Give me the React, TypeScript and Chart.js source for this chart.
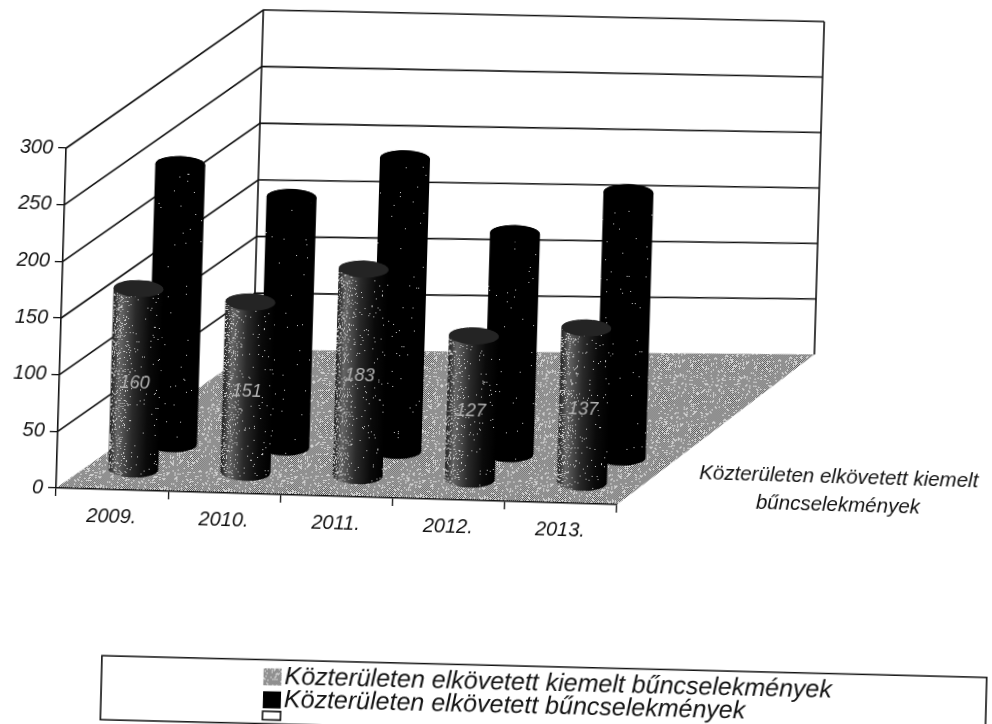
import React, { useEffect, useRef } from "react";
import { Chart, registerables } from "chart.js";

Chart.register(...registerables);

const categories = ["2009.", "2010.", "2011.", "2012.", "2013."];
const frontValues = [160, 151, 183, 127, 137];
const rearValues = [247, 221, 258, 195, 234];
const frontName = "Közterületen elkövetett kiemelt bűncselekmények";
const rearName = "Közterületen elkövetett bűncselekmények";
const depthLabelLines = ["Közterületen elkövetett kiemelt", "bűncselekmények"];

const FONT = '"Liberation Sans", Arial, sans-serif';
const W = 1112;
const H = 844;
const O = 60;

function hash(x: number, y: number) {
  let h = Math.imul(x + 11, 374761393) ^ Math.imul(y + 7, 668265263);
  h = Math.imul(h ^ (h >>> 15), 1274126177);
  h = Math.imul(h ^ (h >>> 13), 2246822519);
  return ((h ^ (h >>> 16)) >>> 0) / 4294967296;
}

function stipple(ctx: any) {
  const c = document.createElement("canvas");
  c.width = 64;
  c.height = 64;
  const t = c.getContext("2d")!;
  t.fillStyle = "#d0d0d0";
  t.fillRect(0, 0, 64, 64);
  t.fillStyle = "#505050";
  for (let y = 0; y < 64; y++)
    for (let x = 0; x < 64; x++)
      if ((x + y) % 2 === 0 && hash(x, y) < 0.85) t.fillRect(x, y, 1, 1);
  return ctx.createPattern(c, "repeat");
}

const project = (area: any, px: number, py: number, d: number) => {
  const u = (px - area.left) / (area.right - area.left);
  const vf = (area.bottom - py) / (area.bottom - area.top);
  return { x: px + d * 193, y: py + d * (-144 - u * (12 - 7 * vf)) };
};

const seriesShift = [
  { dx: 20.5, dy: -20.5, frontStyle: true },
  { dx: 58.5, dy: -47, frontStyle: false },
];

const wallPlugin = {
  id: "walls",
  beforeDraw(chart: any) {
    const { ctx, chartArea: a, scales } = chart;
    ctx.save();
    ctx.fillStyle = "#fff";
    ctx.fillRect(0, 0, W, H);
    const bl = project(a, a.left, a.bottom, 1);
    const br = project(a, a.right, a.bottom, 1);
    ctx.fillStyle = stipple(ctx);
    ctx.beginPath();
    ctx.moveTo(a.left, a.bottom);
    ctx.lineTo(a.right, a.bottom);
    ctx.lineTo(br.x, br.y);
    ctx.lineTo(bl.x, bl.y);
    ctx.closePath();
    ctx.fill();

    ctx.strokeStyle = "#111";
    ctx.lineWidth = 1.6;
    for (const t of scales.y.ticks) {
      if (t.value === 0) continue;
      const y = scales.y.getPixelForValue(t.value);
      const p = project(a, a.left, y, 1);
      const q = project(a, a.right, y, 1);
      ctx.beginPath();
      ctx.moveTo(a.left, y);
      ctx.lineTo(p.x, p.y);
      ctx.lineTo(q.x, q.y);
      ctx.stroke();
    }
    const tl = project(a, a.left, a.top, 1);
    const tr = project(a, a.right, a.top, 1);
    ctx.beginPath();
    ctx.moveTo(tl.x, tl.y);
    ctx.lineTo(bl.x, bl.y);
    ctx.moveTo(tr.x, tr.y);
    ctx.lineTo(br.x, br.y);
    ctx.stroke();
    ctx.restore();
  },
  beforeDatasetDraw(chart: any, args: any) {
    const shift = seriesShift[args.index];
    if (!shift) return false;
    const { ctx } = chart;
    const meta = args.meta;
    meta.data.forEach((el: any, i: number) => {
      const cx = el.x + shift.dx;
      const yb = el.base + shift.dy;
      const yt = el.y + shift.dy;
      const rx = el.width / 2;
      const ry = 8.5;
      ctx.save();
      ctx.beginPath();
      ctx.moveTo(cx - rx, yt);
      ctx.lineTo(cx - rx, yb);
      ctx.ellipse(cx, yb, rx, ry, 0, Math.PI, 0, true);
      ctx.lineTo(cx + rx, yt);
      ctx.ellipse(cx, yt, rx, ry, 0, 0, Math.PI, true);
      ctx.closePath();
      if (shift.frontStyle) {
        const g = ctx.createLinearGradient(cx - rx, 0, cx + rx, 0);
        g.addColorStop(0, "#222");
        g.addColorStop(0.06, "#3a3a3a");
        g.addColorStop(0.16, "#666");
        g.addColorStop(0.45, "#2a2a2a");
        g.addColorStop(0.75, "#0a0a0a");
        g.addColorStop(1, "#000");
        ctx.fillStyle = g;
      } else {
        ctx.fillStyle = "#000";
      }
      ctx.fill();
      ctx.clip();
      const x0 = Math.round(cx - rx);
      const wid = Math.round(rx * 2);
      for (let x = x0; x < x0 + wid; x++) {
        const s = (x - x0) / wid;
        const density = shift.frontStyle ? Math.max(0.015, 0.24 - 0.55 * s) : 0.004;
        for (let y = Math.floor(yt - ry); y < yb + ry; y++) {
          if (hash(x, y + i * 17) < density) {
            ctx.fillStyle = "#ccc";
            ctx.fillRect(x, y, 1, 1);
          }
        }
      }
      ctx.beginPath();
      ctx.ellipse(cx, yt, rx, ry, 0, 0, Math.PI * 2);
      ctx.fillStyle = shift.frontStyle ? "#242424" : "#000";
      ctx.fill();
      if (shift.frontStyle) {
        ctx.font = `italic 18px ${FONT}`;
        ctx.textAlign = "center";
        ctx.textBaseline = "middle";
        ctx.fillStyle = "#b4b4b4";
        ctx.fillText(String(chart.data.datasets[args.index].data[i]), cx - 1, (yt + yb) / 2 + 4);
      }
      ctx.restore();
    });
    return false;
  },
  afterDraw(chart: any) {
    const { ctx } = chart;
    ctx.save();
    ctx.fillStyle = "#111";
    ctx.font = `italic 20.5px ${FONT}`;
    ctx.textAlign = "center";
    ctx.textBaseline = "middle";
    depthLabelLines.forEach((s, i) => ctx.fillText(s, 842 + O, 467 + O + i * 28));

    const bx = 111 + O;
    const by = 665 + O;
    ctx.translate(bx + 442, by + 32);
    ctx.rotate((-0.3 * Math.PI) / 180);
    ctx.translate(-(bx + 442), -(by + 32));
    ctx.strokeStyle = "#111";
    ctx.lineWidth = 1.6;
    ctx.strokeRect(bx, by, 885, 64);
    const rows = [682, 705, 725];
    chart.data.datasets.forEach((ds: any, i: number) => {
      const y = rows[i] + O;
      const sx = 273 + O;
      ctx.beginPath();
      ctx.rect(sx, y - 8.5, 18, i === 2 ? 8.5 : 17);
      ctx.fillStyle = i === 0 ? stipple(ctx) : ds.backgroundColor;
      ctx.fill();
      if (i === 2) ctx.stroke();
      ctx.fillStyle = "#111";
      ctx.textAlign = "left";
      ctx.font = `italic 25px ${FONT}`;
      ctx.fillText(ds.label, 294 + O, y);
    });
    ctx.restore();
  },
};

export default function App() {
  const ref = useRef<HTMLCanvasElement>(null);
  useEffect(() => {
    const tickFont = { family: FONT, size: 20, style: "italic" as const };
    const chart = new Chart(ref.current!, {
      type: "bar",
      data: {
        labels: categories,
        datasets: [
          { label: frontName, data: frontValues, backgroundColor: "#555" },
          { label: rearName, data: rearValues, backgroundColor: "#000" },
          { label: "", data: [], backgroundColor: "#fff" },
        ],
      },
      options: {
        responsive: false,
        animation: false,
        layout: { padding: { top: 221, right: W - 681, left: 0, bottom: 0 } },
        datasets: { bar: { grouped: false, barPercentage: 0.446, categoryPercentage: 1 } },
        plugins: { legend: { display: false }, title: { display: false }, tooltip: { enabled: false } },
        scales: {
          x: {
            afterFit: (s: any) => { s.height = H - 561; },
            grid: { drawOnChartArea: false, tickLength: 8, color: "#111", lineWidth: 1.3 },
            border: { color: "#111", width: 1.6 },
            ticks: { font: tickFont, color: "#111", maxRotation: 0, padding: 7 },
          },
          y: {
            min: 0,
            max: 300,
            afterFit: (s: any) => { s.width = 120; },
            grid: { drawOnChartArea: false, tickLength: 8, color: "#111", lineWidth: 1.3 },
            border: { color: "#111", width: 1.6 },
            ticks: { font: tickFont, color: "#111", stepSize: 50, padding: 5 },
          },
        },
      },
      plugins: [wallPlugin],
    } as any);
    return () => chart.destroy();
  }, []);
  return (
    <div style={{ position: "fixed", left: 0, top: 0, width: 992, height: 724, overflow: "hidden", background: "#fff" }}>
      <canvas
        ref={ref}
        width={W}
        height={H}
        style={{ position: "absolute", left: -O, top: -O, width: W, height: H, transform: "rotate(1.7deg)", transformOrigin: "50% 50%" }}
      />
    </div>
  );
}
